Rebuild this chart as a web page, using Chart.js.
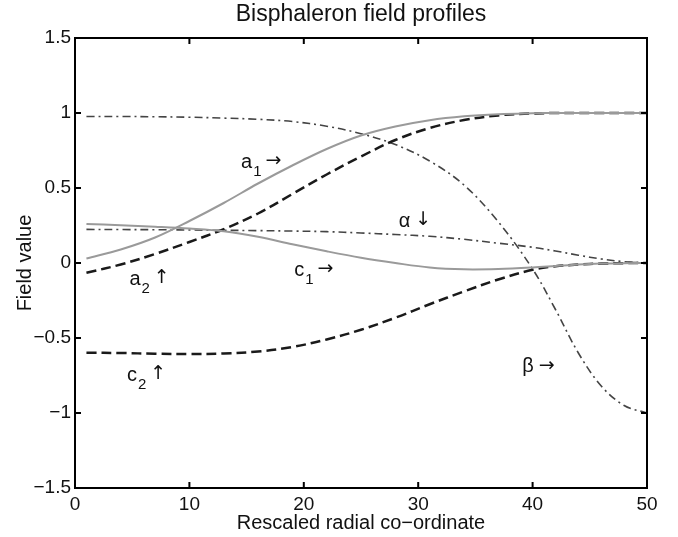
<!DOCTYPE html>
<html>
<head>
<meta charset="utf-8">
<script src="https://cdn.jsdelivr.net/npm/chart.js@4.4.1/dist/chart.umd.min.js"></script>
<style>
  html, body { margin: 0; padding: 0; background: #fff; }
  #wrap { width: 678px; height: 537px; position: relative; }
</style>
</head>
<body>
<div id="wrap"><canvas id="fieldChart"></canvas></div>
<script>
// --- data ---
const radius = [1, 4, 7, 10, 13, 16, 19, 22, 25, 28, 31, 34, 37, 40, 42, 44, 46, 48, 50];
const a1 = [0.03, 0.09, 0.17, 0.28, 0.40, 0.53, 0.65, 0.76, 0.85, 0.91, 0.952, 0.978, 0.992, 0.998, 1, 1, 1, 1, 1];
const a2 = [-0.065, -0.01, 0.06, 0.14, 0.225, 0.33, 0.46, 0.59, 0.71, 0.82, 0.9, 0.953, 0.984, 0.997, 1, 1, 1, 1, 1];
const c1 = [0.26, 0.252, 0.242, 0.23, 0.212, 0.175, 0.125, 0.078, 0.035, 0.0, -0.03, -0.042, -0.04, -0.03, -0.02, -0.01, -0.004, -0.001, 0];
const c2 = [-0.598, -0.6, -0.605, -0.607, -0.603, -0.59, -0.56, -0.51, -0.445, -0.365, -0.275, -0.19, -0.11, -0.045, -0.022, -0.01, -0.004, -0.001, 0];
const alpha = [0.224, 0.223, 0.222, 0.22, 0.218, 0.216, 0.213, 0.209, 0.2, 0.19, 0.178, 0.158, 0.132, 0.105, 0.08, 0.052, 0.027, 0.009, 0];
const beta = [0.977, 0.977, 0.975, 0.972, 0.966, 0.958, 0.943, 0.912, 0.862, 0.79, 0.68, 0.52, 0.275, -0.04, -0.31, -0.6, -0.82, -0.95, -1.0];

const xTicks = [0, 10, 20, 30, 40, 50];
const yTicks = [-1.5, -1, -0.5, 0, 0.5, 1, 1.5];

// curve labels (letter, subscript, arrow) placed in data coordinates
const curveLabels = [
  { text: 'a', sub: '1', arrow: '→', x: 15.0, y: 0.673 },
  { text: 'a', sub: '2', arrow: '↑', x: 5.24, y: -0.107 },
  { text: 'c', sub: '1', arrow: '→', x: 19.6, y: -0.047 },
  { text: 'c', sub: '2', arrow: '↑', x: 4.98, y: -0.747 },
  { text: 'α', sub: '', arrow: '↓', x: 28.8, y: 0.28 },
  { text: 'β', sub: '', arrow: '→', x: 39.6, y: -0.693 }
];

const FONT = "'Liberation Sans', Arial, Helvetica, sans-serif";
const ARROW_FONT = "'DejaVu Sans', sans-serif";
const pts = ys => radius.map((r, i) => ({ x: r, y: ys[i] }));
const fmt = v => (v < 0 ? '\u2212' : '') + Math.abs(v);

// box on top/right, inward ticks on all sides, curve labels
const boxPlugin = {
  id: 'box',
  afterDraw(chart) {
    const { ctx, chartArea: a, scales: { x, y } } = chart;
    ctx.save();
    ctx.strokeStyle = '#000';
    ctx.lineWidth = 2;
    ctx.strokeRect(a.left, a.top, a.right - a.left, a.bottom - a.top);
    const tl = 6;
    ctx.beginPath();
    xTicks.forEach(v => {
      const px = x.getPixelForValue(v);
      ctx.moveTo(px, a.bottom); ctx.lineTo(px, a.bottom - tl);
      ctx.moveTo(px, a.top); ctx.lineTo(px, a.top + tl);
    });
    yTicks.forEach(v => {
      const py = y.getPixelForValue(v);
      ctx.moveTo(a.left, py); ctx.lineTo(a.left + tl, py);
      ctx.moveTo(a.right, py); ctx.lineTo(a.right - tl, py);
    });
    ctx.stroke();

    ctx.fillStyle = '#111';
    ctx.textBaseline = 'middle';
    ctx.textAlign = 'left';
    curveLabels.forEach(l => {
      let px = x.getPixelForValue(l.x);
      const py = y.getPixelForValue(l.y);
      ctx.font = '20px ' + FONT;
      const w = ctx.measureText(l.text).width;
      ctx.fillText(l.text, px - w / 2, py);
      px += w / 2 + 1;
      if (l.sub) {
        ctx.font = '15px ' + FONT;
        ctx.fillText(l.sub, px, py + 10);
        px += ctx.measureText(l.sub).width;
      }
      ctx.font = '19px ' + ARROW_FONT;
      ctx.fillText(l.arrow, px + 4, py - 1);
    });
    ctx.restore();
  }
};

const ctx = document.getElementById('fieldChart');
new Chart(ctx, {
  type: 'line',
  data: {
    datasets: [
      { label: 'a1', data: pts(a1), borderColor: '#9a9a9a', borderWidth: 2 },
      { label: 'c1', data: pts(c1), borderColor: '#9a9a9a', borderWidth: 2 },
      { label: 'a2', data: pts(a2), borderColor: '#1a1a1a', borderWidth: 2.5, borderDash: [10, 5] },
      { label: 'c2', data: pts(c2), borderColor: '#1a1a1a', borderWidth: 2.5, borderDash: [10, 5] },
      { label: 'alpha', data: pts(alpha), borderColor: '#444', borderWidth: 1.6, borderDash: [8, 4, 2, 4] },
      { label: 'beta', data: pts(beta), borderColor: '#444', borderWidth: 1.6, borderDash: [8, 4, 2, 4] }
    ]
  },
  options: {
    responsive: true,
    maintainAspectRatio: false,
    animation: false,
    layout: { padding: { left: 0, right: 31, top: 0, bottom: 0 } },
    elements: {
      point: { radius: 0 },
      line: { tension: 0.35, fill: false }
    },
    plugins: {
      legend: { display: false },
      tooltip: { enabled: false },
      title: {
        display: true,
        fullSize: false,
        text: 'Bisphaleron field profiles',
        color: '#111',
        font: { family: FONT, size: 23, weight: 'normal' },
        padding: { top: 1, bottom: 9.4 }
      }
    },
    scales: {
      x: {
        type: 'linear',
        min: 0,
        max: 50,
        afterBuildTicks: s => { s.ticks = xTicks.map(v => ({ value: v })); },
        afterFit: s => { s.height = 49; },
        grid: { display: false, drawTicks: false },
        border: { display: true, color: '#000', width: 2 },
        ticks: {
          padding: 5,
          color: '#111',
          maxRotation: 0,
          font: { family: FONT, size: 19 },
          callback: v => fmt(v)
        },
        title: {
          display: true,
          text: 'Rescaled radial co\u2212ordinate',
          color: '#111',
          font: { family: FONT, size: 20 },
          padding: { top: 0, bottom: 2 }
        }
      },
      y: {
        type: 'linear',
        min: -1.5,
        max: 1.5,
        afterBuildTicks: s => { s.ticks = yTicks.map(v => ({ value: v })); },
        afterFit: s => { s.width = 75; },
        grid: { display: false, drawTicks: false },
        border: { display: true, color: '#000', width: 2 },
        ticks: {
          padding: 4,
          color: '#111',
          font: { family: FONT, size: 19 },
          callback: v => fmt(v)
        },
        title: {
          display: true,
          text: 'Field value',
          color: '#111',
          font: { family: FONT, size: 20 },
          padding: { top: 13, bottom: 0 }
        }
      }
    }
  },
  plugins: [boxPlugin]
});
</script>
</body>
</html>
